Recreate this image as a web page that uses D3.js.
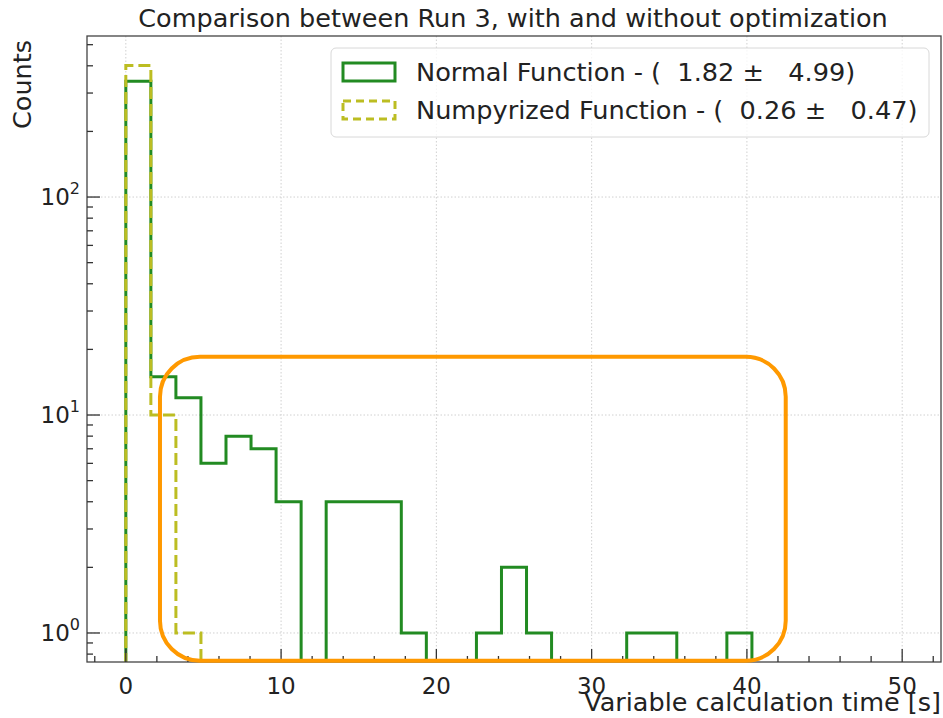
<!DOCTYPE html>
<html>
<head>
<meta charset="utf-8">
<script src="https://cdn.jsdelivr.net/npm/d3@7"></script>
<style>
  body { margin: 0; background: #fff; }
  svg { display: block; font-family: "DejaVu Sans", sans-serif; }
  .tick-label { fill: #222; font-size: 23px; }
  .axis-title { fill: #222; font-size: 25.5px; }
  .legend-text { fill: #222; font-size: 25.6px; white-space: pre; }
</style>
</head>
<body>
<svg id="chart" width="943" height="718"></svg>
<script>
// histogram settings (31 equal bins over 0..50 s)
var binStart = 0, binEnd = 50, binCount = 31;

// counts per bin
var normalCounts = [340, 15, 12, 6, 8, 7, 4, 0, 4, 4, 4, 1, 0, 0, 1, 2, 1, 0, 0, 0, 1, 1, 0, 0, 1, 0, 0, 0, 0, 0, 0];
var numpyCounts  = [401, 10, 1, 0, 0, 0, 0, 0, 0, 0, 0, 0, 0, 0, 0, 0, 0, 0, 0, 0, 0, 0, 0, 0, 0, 0, 0, 0, 0, 0, 0];

var seriesNames = ['Normal Function - (  1.82 \u00b1   4.99)', 'Numpyrized Function - (  0.26 \u00b1   0.47)'];
var xTicks = [0, 10, 20, 30, 40, 50];
var yTicks = [1, 10, 100];

// highlighted region (data units)
var highlight = {x0: 2.2, x1: 42.5, y0: 0.746, y1: 18.5};

var svg = d3.select('#chart');
var pLeft = 87, pRight = 941, pTop = 36, pBottom = 662;

var x = d3.scaleLinear().domain([-2.5, 52.5]).range([pLeft, pRight]);
var y = d3.scaleLog().domain([0.736, 548]).range([pBottom, pTop]);

var binW = (binEnd - binStart) / binCount;
var edges = d3.range(binCount + 1).map(function(i) { return binStart + i * binW; });

svg.append('defs').append('clipPath').attr('id', 'plotclip')
  .append('rect').attr('x', pLeft).attr('y', pTop).attr('width', pRight - pLeft).attr('height', pBottom - pTop);

//grid
var grid = svg.append('g').attr('stroke', '#d0d0d0').attr('stroke-width', 1).attr('stroke-dasharray', '1.5,2');
grid.selectAll('.gx').data(xTicks).enter().append('line')
  .attr('x1', function(d) { return x(d); }).attr('x2', function(d) { return x(d); })
  .attr('y1', pTop).attr('y2', pBottom);
grid.selectAll('.gy').data(yTicks).enter().append('line')
  .attr('y1', function(d) { return y(d); }).attr('y2', function(d) { return y(d); })
  .attr('x1', pLeft).attr('x2', pRight);

//histogram steps
function stepPath(counts) {
  var pts = [[edges[0], 1e-3]];
  counts.forEach(function(c, i) {
    var v = c > 0 ? c : 1e-3;
    pts.push([edges[i], v]);
    pts.push([edges[i + 1], v]);
  });
  pts.push([edges[binCount], 1e-3]);
  return d3.line().x(function(d) { return x(d[0]); }).y(function(d) { return Math.min(y(d[1]), pBottom + 20); })(pts);
}

var hist = svg.append('g').attr('clip-path', 'url(#plotclip)').attr('fill', 'none');
hist.append('path').attr('d', stepPath(normalCounts))
  .attr('stroke', '#228b22').attr('stroke-width', 3).attr('stroke-linejoin', 'miter');
hist.append('path').attr('d', stepPath(numpyCounts))
  .attr('stroke', '#bcbd22').attr('stroke-width', 3).attr('stroke-dasharray', '12,5');

//frame
svg.append('rect').attr('x', pLeft).attr('y', pTop).attr('width', pRight - pLeft).attr('height', pBottom - pTop)
  .attr('fill', 'none').attr('stroke', '#444').attr('stroke-width', 1.3);

//x axis ticks
var xMinor = d3.range(-2, 53, 2).filter(function(d) { return d % 10 !== 0; });
var ax = svg.append('g').attr('stroke', '#333').attr('stroke-width', 1.3);
ax.selectAll('.xm').data(xTicks).enter().append('line')
  .attr('x1', function(d) { return x(d); }).attr('x2', function(d) { return x(d); })
  .attr('y1', pBottom).attr('y2', pBottom - 13);
ax.selectAll('.xn').data(xMinor).enter().append('line')
  .attr('x1', function(d) { return x(d); }).attr('x2', function(d) { return x(d); })
  .attr('y1', pBottom).attr('y2', pBottom - 6);

svg.selectAll('.xl').data(xTicks).enter().append('text')
  .attr('class', 'tick-label').attr('text-anchor', 'middle')
  .attr('x', function(d) { return x(d); }).attr('y', 694)
  .text(function(d) { return d; });

//y axis ticks
var yMinor = [];
[0.1, 1, 10, 100].forEach(function(p) {
  d3.range(2, 10).forEach(function(m) {
    var v = m * p;
    if (v > y.domain()[0] && v < y.domain()[1]) yMinor.push(v);
  });
});
ax.selectAll('.ym').data(yTicks).enter().append('line')
  .attr('y1', function(d) { return y(d); }).attr('y2', function(d) { return y(d); })
  .attr('x1', pLeft).attr('x2', pLeft + 13);
ax.selectAll('.yn').data(yMinor).enter().append('line')
  .attr('y1', function(d) { return y(d); }).attr('y2', function(d) { return y(d); })
  .attr('x1', pLeft).attr('x2', pLeft + 6);

var yl = svg.selectAll('.yl').data(yTicks).enter().append('text')
  .attr('class', 'tick-label').attr('text-anchor', 'end')
  .attr('x', 80).attr('y', function(d) { return y(d) + 8; });
yl.append('tspan').text('10');
yl.append('tspan').attr('dy', -11).attr('font-size', 16).text(function(d) { return Math.round(Math.log10(d)); });

//titles
svg.append('text').attr('class', 'axis-title').attr('text-anchor', 'middle')
  .attr('x', 513).attr('y', 27).attr('font-size', 25.1)
  .text('Comparison between Run 3, with and without optimization');
svg.append('text').attr('class', 'axis-title').attr('text-anchor', 'end')
  .attr('x', pRight).attr('y', 711)
  .text('Variable calculation time [s]');
svg.append('text').attr('class', 'axis-title').attr('text-anchor', 'end')
  .attr('transform', 'translate(31,' + (pTop + 4) + ') rotate(-90)')
  .text('Counts');

//highlight annotation
svg.append('rect')
  .attr('x', x(highlight.x0)).attr('y', y(highlight.y1))
  .attr('width', x(highlight.x1) - x(highlight.x0)).attr('height', y(highlight.y0) - y(highlight.y1))
  .attr('rx', 40).attr('ry', 40)
  .attr('fill', 'none').attr('stroke', '#ff9900').attr('stroke-width', 4);

//legend
var legend = svg.append('g');
legend.append('rect').attr('x', 331).attr('y', 48).attr('width', 598).attr('height', 89)
  .attr('rx', 5).attr('fill', '#fff').attr('fill-opacity', 0.8).attr('stroke', '#d8d8d8');
var legColors = ['#228b22', '#bcbd22'];
var legDash = [null, '8,5'];
seriesNames.forEach(function(name, i) {
  var cy = 72 + i * 38;
  legend.append('rect').attr('x', 343).attr('y', cy - 9).attr('width', 52).attr('height', 18)
    .attr('fill', 'none').attr('stroke', legColors[i]).attr('stroke-width', 3)
    .attr('stroke-dasharray', legDash[i]);
  legend.append('text').attr('class', 'legend-text').attr('x', 416).attr('y', cy + 9).text(name);
});
</script>
</body>
</html>
